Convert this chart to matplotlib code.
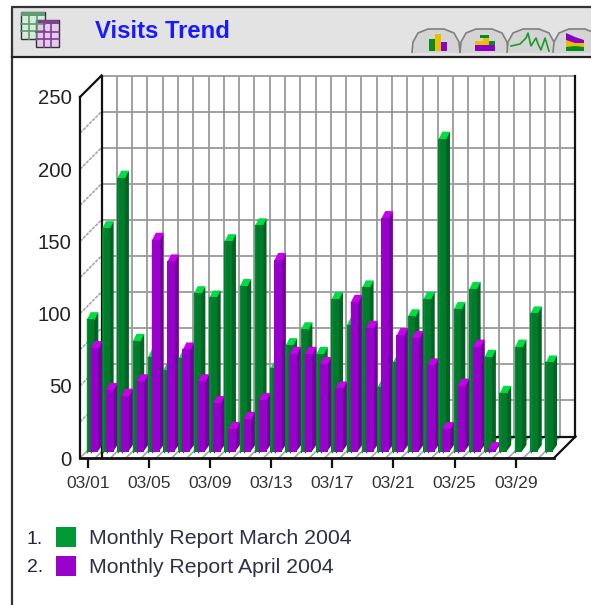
import matplotlib
matplotlib.use('Agg')
import matplotlib.pyplot as plt
from matplotlib.patches import Rectangle, Polygon

plt.rcParams['font.family'] = ['Liberation Sans', 'DejaVu Sans']

days = list(range(1, 32))
march = [92, 155, 190, 77, 66, 57, 65, 110, 107, 146, 115, 157, 58, 74, 85, 68,
         106, 88, 114, 45, 62, 94, 106, 217, 99, 113, 66, 41, 73, 96, 62]
april = [72, 43, 39, 49, 147, 132, 71, 49, 34, 16, 23, 36, 133, 68, 68, 61,
         44, 104, 86, 162, 81, 79, 60, 16, 46, 73, 2]
tick_days = [1, 5, 9, 13, 17, 21, 25, 29]
tick_labels = ['03/01', '03/05', '03/09', '03/13', '03/17', '03/21', '03/25', '03/29']
y_ticks = [0, 50, 100, 150, 200, 250]
legend_names = ['Monthly Report March 2004', 'Monthly Report April 2004']

# face, side, cap, left edge / legend
GREEN = ('#007a2b', '#006523', '#00dd44', '#008f30')
PURPLE = ('#9600ca', '#74009f', '#c800ea', '#9900cc')
LEGEND_COLORS = ['#009933', '#9900cc']

W, H = 591, 605
fig = plt.figure(figsize=(W / 100, H / 100), dpi=100, facecolor='white')

# page furniture, in pixels
bg = fig.add_axes([0, 0, 1, 1], zorder=0)
bg.set_xlim(0, W)
bg.set_ylim(H, 0)
bg.axis('off')
bg.add_patch(Rectangle((12, 7), W, 50, fc='#e3e3e3', ec='none'))
bg.plot([W, 12, 12], [7, 7, H], color='#333333', lw=1.6)
bg.plot([12, W], [57, 57], color='#222222', lw=1.6)
bg.text(95, 32, 'Visits Trend', color='#1a1aff', fontsize=17.2, fontweight='bold', va='center')


def table_icon(x, y, w, h, head, cell):
    bg.add_patch(Rectangle((x, y), w, h, fc=cell, ec='#333333', lw=1))
    bg.add_patch(Rectangle((x, y), w, 4, fc=head, ec='none'))
    for i in range(1, 3):
        bg.plot([x + w * i / 3] * 2, [y + 4, y + h], color=head, lw=1.2)
        bg.plot([x, x + w], [y + 4 + (h - 4) * i / 3] * 2, color=head, lw=1.2)


table_icon(21, 12, 24, 27, '#5f9a72', '#d5ecd9')
table_icon(36, 20, 23, 27, '#7d3f8c', '#e6c8ee')


def tab(x, w):
    pts = [(x, 53), (x + 1, 42), (x + 6, 33), (x + 16, 29), (x + w - 16, 29),
           (x + w - 6, 33), (x + w - 1, 42), (x + w, 53)]
    bg.add_patch(Polygon(pts, closed=False, fc='#d4d4d4', ec='#808080', lw=1.2))


for x in (412, 460, 507, 553):
    tab(x, 48)

G, Y, P = '#0a8a22', '#e8c000', '#8a00c8'
# bar icon
bg.add_patch(Rectangle((429, 39), 6, 12, fc=G, ec='none'))
bg.add_patch(Rectangle((435, 34), 6, 17, fc=Y, ec='none'))
bg.add_patch(Rectangle((441, 42), 6, 9, fc=P, ec='none'))
# stacked icon
bg.add_patch(Rectangle((475, 45), 20, 6, fc=P, ec='none'))
bg.add_patch(Rectangle((475, 41), 8, 4, fc=Y, ec='none'))
bg.add_patch(Rectangle((483, 38), 6, 7, fc=Y, ec='none'))
bg.add_patch(Rectangle((489, 41), 6, 4, fc=G, ec='none'))
bg.add_patch(Rectangle((480, 35), 9, 3, fc=G, ec='none'))
# line icon
bg.plot([511, 520, 526, 528, 531, 536, 538, 541, 545, 549],
        [46, 44, 38, 33, 46, 38, 44, 50, 38, 51], color='#1f9a2a', lw=1.2)
# area icon
bg.add_patch(Polygon([(566, 33), (575, 37), (584, 40), (584, 51), (566, 51)], fc=P, ec='none'))
bg.add_patch(Polygon([(566, 40), (575, 43), (584, 43), (584, 51), (566, 51)], fc=Y, ec='none'))
bg.add_patch(Polygon([(566, 47), (575, 46), (584, 47), (584, 51), (566, 51)], fc=G, ec='none'))

# legend
for i, (name, col) in enumerate(zip(legend_names, LEGEND_COLORS)):
    y = 537 + i * 28.5
    bg.text(27, y + 2, f'{i + 1}.', fontsize=14, color='#222244', va='center')
    bg.add_patch(Rectangle((56, y - 10), 20, 20, fc=col, ec='none'))
    bg.text(89, y + 2, name, fontsize=15.3, color='#303048', va='center')

# chart, axes rectangle is the front plane of the box
L, R, B, T = 80, 554, 458, 97
ax = fig.add_axes([L / W, 1 - B / H, (R - L) / W, (B - T) / H], zorder=1)
ax.patch.set_alpha(0)
ax.set_xlim(0.5, 31.5)
ax.set_ylim(0, 250)
for s in ('top', 'right', 'left'):
    ax.spines[s].set_visible(False)
ax.spines['bottom'].set_linewidth(2.0)
ax.spines['bottom'].set_color('#111111')

px = 31.0 / (R - L)  # data units per pixel in x
py = 250.0 / (B - T)  # data units per pixel in y
DX, DY = 21.5 * px, 21.5 * py  # box depth

ax.set_xticks(tick_days)
ax.set_xticklabels(tick_labels, fontsize=12.6, color='#333333')
ax.set_yticks(y_ticks)
ax.set_yticklabels(y_ticks, fontsize=14.6, color='#222222')
ax.tick_params(axis='x', length=7, width=1.6, pad=6, color='#111111')
ax.tick_params(axis='y', length=0, pad=6)

GRID = dict(color='#9a9a9a', lw=1.3, clip_on=False, solid_capstyle='butt')
for v in range(0, 251, 25):
    ax.plot([0.5 + DX, 31.5 + DX], [v + DY] * 2, zorder=1, **GRID)
    if v > 0:
        ax.plot([0.5, 0.5 + DX], [v, v + DY], zorder=1, color='#a8a8a8', lw=1.2, ls=(0, (2, 0.6)), clip_on=False)
for d in range(0, 32):
    ax.plot([0.5 + d + DX] * 2, [DY, 250 + DY], zorder=1, **GRID)
    ax.plot([0.5 + d, 0.5 + d + DX], [0, DY], zorder=1, color='#a8a8a8', lw=1.2, clip_on=False)

# box outline
BOX = dict(color='#111111', lw=1.6, clip_on=False, zorder=2, solid_capstyle='projecting')
ax.plot([0.5, 0.5], [0, 250], **BOX)
ax.plot([0.5 + DX] * 2, [0, 250 + DY], **BOX)
ax.plot([0.5, 0.5 + DX], [250, 250 + DY], **BOX)
ax.plot([31.5 + DX] * 2, [DY, 250 + DY], **BOX)
ax.plot([31.5, 31.5 + DX], [0, DY], **BOX)
ax.plot([22.5, 31.5 + DX], [DY, DY], **BOX)

FACE_W, SIDE_X, SIDE_Y = 7.7 * px, 4.0 * px, 7.0 * py
BASE_Y = 6 * py


def draw_bar(left, value, col, z):
    x0 = left
    x1 = left + FACE_W
    y0 = BASE_Y
    y1 = BASE_Y + value
    # side and cap run a bit under the face so no seam shows
    ax.fill([x1 - px, x1 + SIDE_X, x1 + SIDE_X, x1 - px], [y0, y0 + SIDE_Y, y1 + SIDE_Y, y1], color=col[1], lw=0, zorder=z, clip_on=False)
    ax.fill([x0, x1, x1 + SIDE_X, x0 + SIDE_X], [y1 - py, y1 - py, y1 + SIDE_Y, y1 + SIDE_Y], color=col[2], lw=0, zorder=z, clip_on=False)
    ax.bar(x0, value, FACE_W, bottom=y0, align='edge', color=col[0], lw=0, zorder=z, clip_on=False)
    ax.plot([x0 + 0.6 * px] * 2, [y0, y1], color=col[3], lw=1.0, zorder=z, clip_on=False)


z = 3
for i, d in enumerate(days):
    draw_bar(d - 1 * px, march[i], GREEN, z)
    z += 1
    if i < len(april):
        draw_bar(d + 3 * px, april[i], PURPLE, z)
        z += 1

fig.savefig('out.png', dpi=100)
